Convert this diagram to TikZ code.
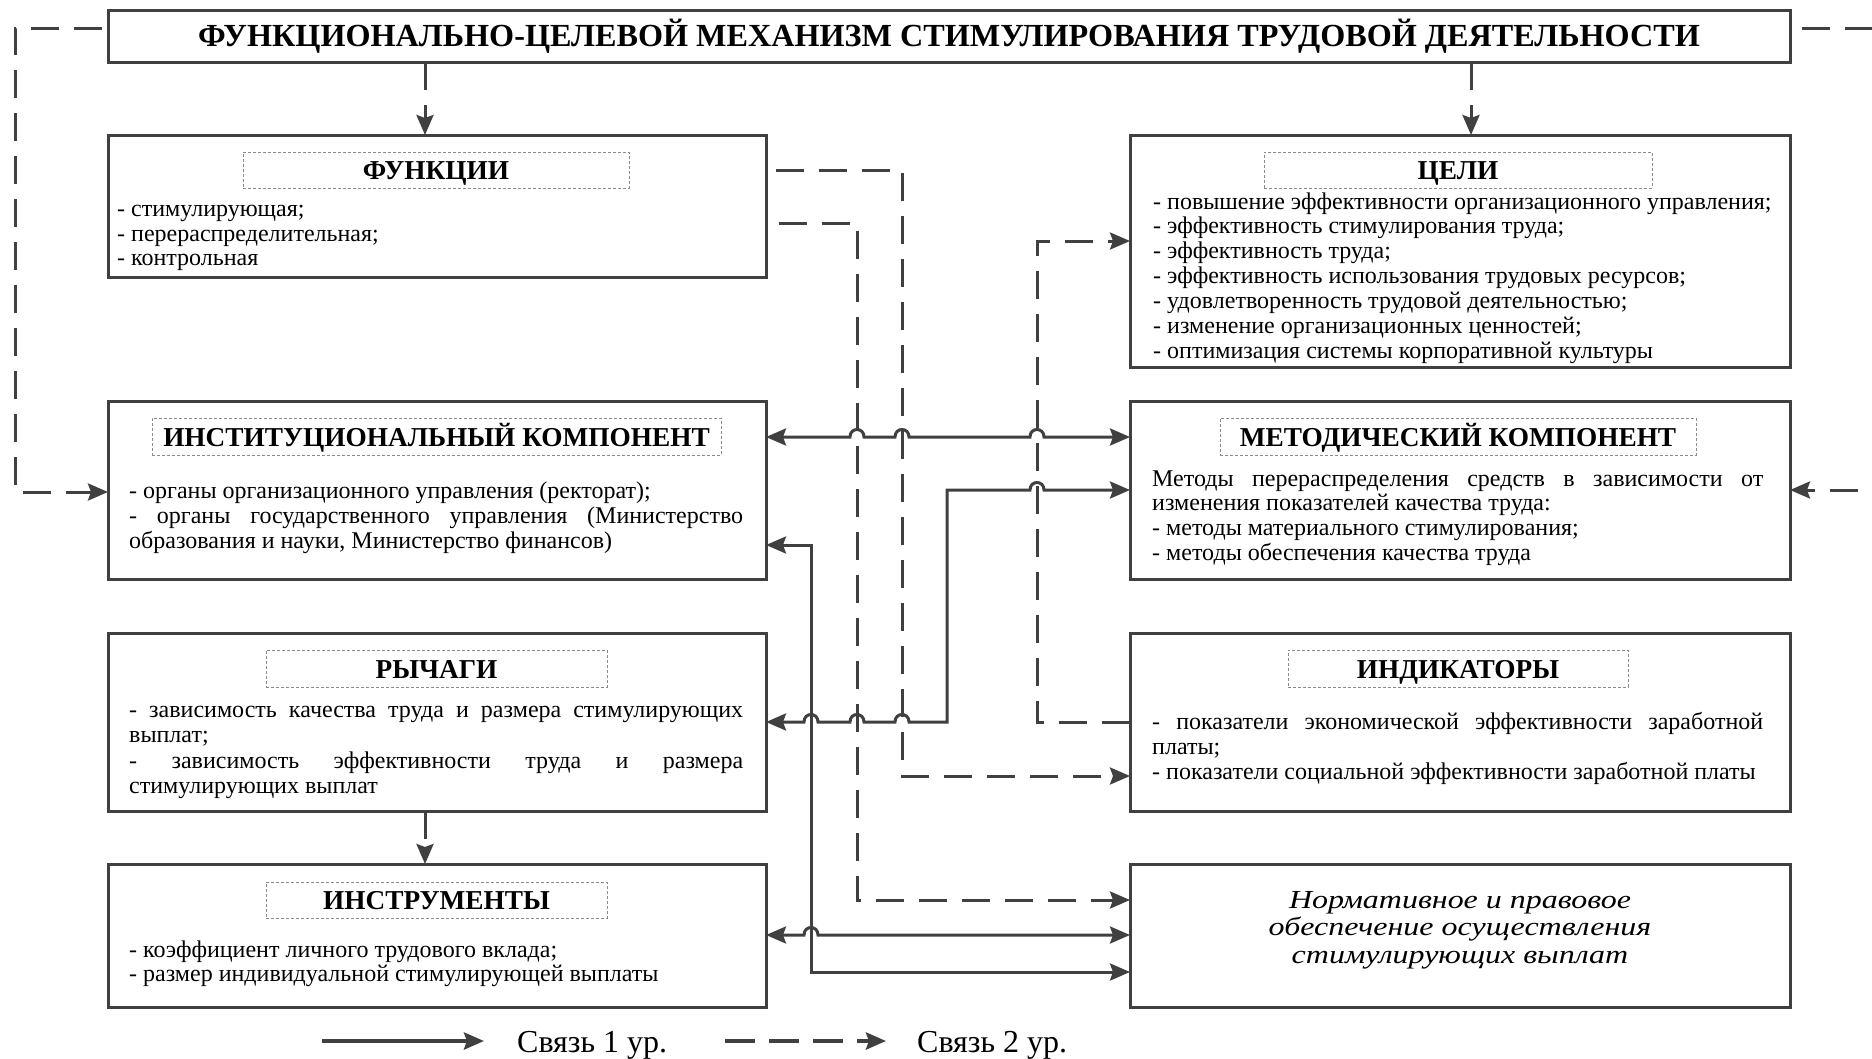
\documentclass[tikz,border=0pt]{standalone}
\usepackage{fontspec}
\setmainfont{Liberation Serif}
\newfontfamily\ifam[FakeStretch=1.23]{Liberation Serif}
\usetikzlibrary{arrows.meta}
\definecolor{lc}{HTML}{404040}
\definecolor{hc}{HTML}{8A8A8A}
\newcommand\bfnt{\fontsize{24}{25}\selectfont}
\newcommand\hfnt{\fontsize{27.3}{30}\selectfont\bfseries}
\newcommand\tfnt{\fontsize{32.2}{34}\selectfont\bfseries}
\newcommand\ifnt{\ifam\fontsize{26}{27}\selectfont\itshape}
\newcommand\lfnt{\fontsize{32}{34}\selectfont}
\def\bmp#1#2{-- (#1-7,#2) .. controls (#1-7,#2-10) and (#1+7,#2-10) .. (#1+7,#2)}
\begin{document}
\begin{tikzpicture}[x=1pt,y=-1pt,
  box/.style={draw=lc, line width=3pt, inner sep=0pt, outer sep=0pt, anchor=north west},
  hd/.style={draw=hc, line width=1pt, dash pattern=on 3pt off 2pt, inner sep=0pt, outer sep=0pt, font=\hfnt, text height=19pt, text depth=0pt},
  tx/.style={anchor=base west, inner sep=0pt, font=\bfnt},
  it/.style={anchor=base, inner sep=0pt, font=\ifnt},
  sl/.style={draw=lc, line width=3pt},
  dl/.style={draw=lc, line width=3pt, dash pattern=on 28pt off 15pt},
  >={Stealth[length=20pt,width=17pt,inset=3pt]}]
\useasboundingbox (0,0) rectangle (1872,1058);
\clip (0,0) rectangle (1872,1058);
\fill[white] (0,0) rectangle (1872,1058);

% boxes
\node[box, minimum width=1682, minimum height=52] (T) at (108,10) {};
\node[box, minimum width=658, minimum height=142] (F) at (108,135) {};
\node[box, minimum width=660, minimum height=232] (G) at (1130,135) {};
\node[box, minimum width=658, minimum height=178] (I) at (108,401) {};
\node[box, minimum width=660, minimum height=178] (M) at (1130,401) {};
\node[box, minimum width=658, minimum height=178] (R) at (108,633) {};
\node[box, minimum width=660, minimum height=178] (K) at (1130,633) {};
\node[box, minimum width=658, minimum height=143] (N) at (108,864) {};
\node[box, minimum width=660, minimum height=143] (P) at (1130,864) {};

% title
\node[inner sep=0pt, font=\tfnt, text height=21pt, text depth=0pt] (Tt) at (949,36) {ФУНКЦИОНАЛЬНО-ЦЕЛЕВОЙ МЕХАНИЗМ СТИМУЛИРОВАНИЯ ТРУДОВОЙ ДЕЯТЕЛЬНОСТИ};

% headings
\node[hd, minimum width=386, minimum height=36] (Fh) at (436,170) {ФУНКЦИИ};
\node[hd, minimum width=388, minimum height=36] (Gh) at (1458,170) {ЦЕЛИ};
\node[hd, minimum width=569, minimum height=37] (Ih) at (436.5,436.5) {ИНСТИТУЦИОНАЛЬНЫЙ КОМПОНЕНТ};
\node[hd, minimum width=476, minimum height=37] (Mh) at (1458,436.5) {МЕТОДИЧЕСКИЙ КОМПОНЕНТ};
\node[hd, minimum width=341, minimum height=37] (Rh) at (436.5,668.5) {РЫЧАГИ};
\node[hd, minimum width=340, minimum height=37] (Kh) at (1458,668.5) {ИНДИКАТОРЫ};
\node[hd, minimum width=341, minimum height=36] (Nh) at (436.5,900) {ИНСТРУМЕНТЫ};

% texts
\node[tx] (f1) at (117,216) {- стимулирующая;};
\node[tx] (f2) at (117,241) {- перераспределительная;};
\node[tx] (f3) at (117,265) {- контрольная};

\node[tx] (g1) at (1153,209) {- повышение эффективности организационного управления;};
\node[tx] (g2) at (1153,233) {- эффективность стимулирования труда;};
\node[tx] (g3) at (1153,258) {- эффективность труда;};
\node[tx] (g4) at (1153,283) {- эффективность использования трудовых ресурсов;};
\node[tx] (g5) at (1153,308) {- удовлетворенность трудовой деятельностью;};
\node[tx] (g6) at (1153,333) {- изменение организационных ценностей;};
\node[tx] (g7) at (1153,358) {- оптимизация системы корпоративной культуры};

\node[tx] (i1) at (129,498) {- органы организационного управления (ректорат);};
\node[tx] (i2) at (129,523) {\makebox[614pt][s]{- органы государственного управления (Министерство}};
\node[tx] (i3) at (129,548) {образования и науки, Министерство финансов)};

\node[tx] (m1) at (1152,486) {\makebox[611pt][s]{Методы перераспределения средств в зависимости от}};
\node[tx] (m2) at (1152,510) {изменения показателей качества труда:};
\node[tx] (m3) at (1152,535) {- методы материального стимулирования;};
\node[tx] (m4) at (1152,560) {- методы обеспечения качества труда};

\node[tx] (r1) at (129,717) {\makebox[614pt][s]{- зависимость качества труда и размера стимулирующих}};
\node[tx] (r2) at (129,742) {выплат;};
\node[tx] (r3) at (129,768) {\makebox[614pt][s]{- зависимость эффективности труда и размера}};
\node[tx] (r4) at (129,793) {стимулирующих выплат};

\node[tx] (k1) at (1152,729) {\makebox[611pt][s]{- показатели экономической эффективности заработной}};
\node[tx] (k2) at (1152,754) {платы;};
\node[tx] (k3) at (1152,779) {- показатели социальной эффективности заработной платы};

\node[tx] (n1) at (129,957) {- коэффициент личного трудового вклада;};
\node[tx] (n2) at (129,981) {- размер индивидуальной стимулирующей выплаты};

\node[it] (p1) at (1460,908) {Нормативное и правовое};
\node[it] (p2) at (1460,935.5) {обеспечение осуществления};
\node[it] (p3) at (1460,963) {стимулирующих выплат};

% connectors, level 2 (dashed)
\draw[dl,->] (T.south -| 425,0) -- (F.north -| 425,0);
\draw[dl,->] (T.south -| 1471,0) -- (G.north -| 1471,0);
\draw[dl,->, dash phase=37pt] (T.west |- 0,28) -- (15,28) -- (15,492) -- (I.west |- 0,492);
\draw[dl,->, dash phase=31pt] (T.east |- 0,28) -- (1900,28) -- (1900,490) -- (M.east |- 0,490);
\draw[dl,->, dash phase=33pt] (F.east |- 0,170) -- (902,170) -- (902,776) -- (K.west |- 0,776);
\draw[dl,->, dash phase=30pt] (F.east |- 0,223) -- (857,223) -- (857,900) -- (P.west |- 0,900);
\draw[dl,->] (K.west |- 0,722) -- (1037,722) -- (1037,241) -- (G.west |- 0,241);
\draw[dl,->] (R.south -| 425,0) -- (N.north -| 425,0);

% connectors, level 1 (solid)
\draw[sl,<->] (I.east |- 0,437) \bmp{857}{437} \bmp{902}{437} \bmp{1037}{437} -- (M.west |- 0,437);
\draw[sl,<->] (R.east |- 0,722) \bmp{811}{722} \bmp{857}{722} \bmp{902}{722} -- (947,722) -- (947,490) \bmp{1037}{490} -- (M.west |- 0,490);
\draw[sl,<->] (I.east |- 0,545) -- (811,545) -- (811,972) -- (P.west |- 0,972);
\draw[sl,<->] (N.east |- 0,935) \bmp{811}{935} -- (P.west |- 0,935);

% legend
\coordinate (la1) at (322,1041);
\coordinate (la2) at (484,1041);
\coordinate (lb1) at (725,1041);
\coordinate (lb2) at (886,1041);
\draw[sl, line width=4pt, ->] (la1) -- (la2);
\draw[dl, line width=4pt, dash pattern=on 30pt off 14pt, ->] (lb1) -- (lb2);
\node[anchor=base west, inner sep=0pt, font=\lfnt] (l1) at (517,1052) {Связь 1 ур.};
\node[anchor=base west, inner sep=0pt, font=\lfnt] (l2) at (917,1052) {Связь 2 ур.};
\end{tikzpicture}
\end{document}
